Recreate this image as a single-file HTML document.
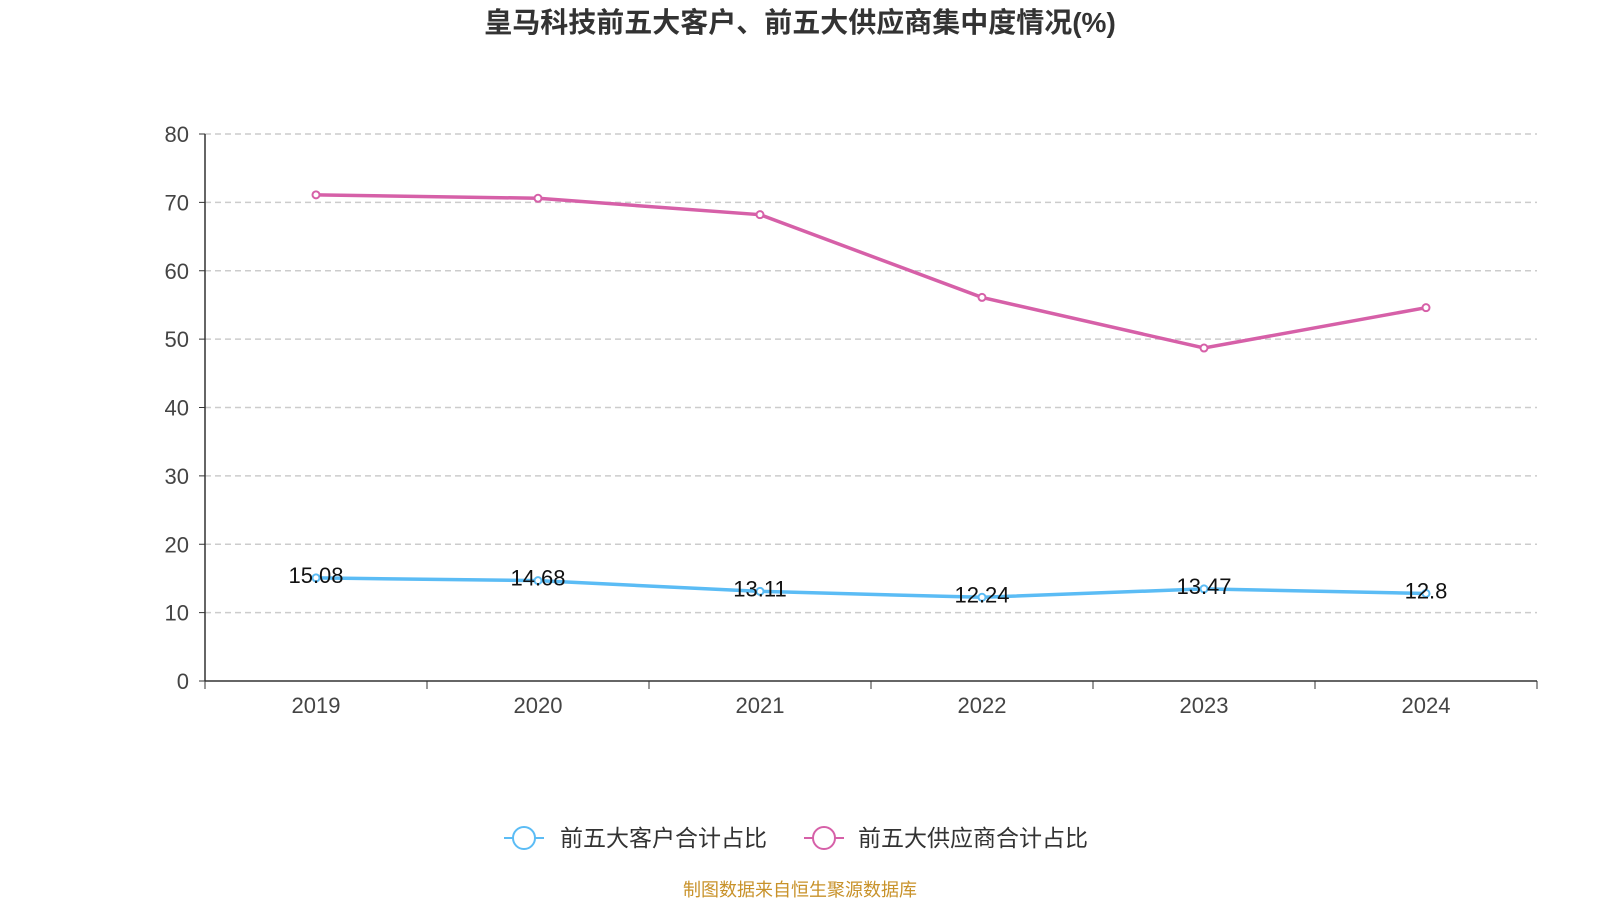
<!DOCTYPE html>
<html><head><meta charset="utf-8"><style>
body{margin:0;background:#fff;}
svg text{font-family:"Liberation Sans","Noto Sans CJK SC",sans-serif;}
</style></head><body>
<svg id="chart" width="1600" height="900" xmlns="http://www.w3.org/2000/svg">
<text x="800" y="32" text-anchor="middle" font-size="28" font-weight="bold" fill="#333">皇马科技前五大客户、前五大供应商集中度情况(%)</text>
<g id="grid"></g><g id="axes"></g><g id="series"></g>
<g>
<g>
<line x1="504" y1="838" x2="544" y2="838" stroke="#5bbcf5" stroke-width="2"/>
<circle cx="524" cy="838" r="11" fill="#fff" stroke="#5bbcf5" stroke-width="2"/>
<text x="560" y="846" font-size="23" fill="#333">前五大客户合计占比</text></g>
<g>
<line x1="804" y1="838" x2="844" y2="838" stroke="#d660a8" stroke-width="2"/>
<circle cx="824" cy="838" r="11" fill="#fff" stroke="#d660a8" stroke-width="2"/>
<text x="858" y="846" font-size="23" fill="#333">前五大供应商合计占比</text></g>
</g>
<text x="800" y="896" text-anchor="middle" font-size="18" fill="#c8922a">制图数据来自恒生聚源数据库</text>
</svg>
<script>
const categories=["2019","2020","2021","2022","2023","2024"];
const customers=[15.08,14.68,13.11,12.24,13.47,12.8];
const suppliers=[71.1,70.6,68.2,56.1,48.7,54.6];
const yTicks=[0,10,20,30,40,50,60,70,80];
const NS="http://www.w3.org/2000/svg";
const L=205,R=1537,T=134,B=681;
const y=v=>B-(v/80)*(B-T);
const band=(R-L)/categories.length;
const x=i=>L+band*(i+0.5);
function el(t,a,p){const e=document.createElementNS(NS,t);for(const k in a)e.setAttribute(k,a[k]);p.appendChild(e);return e;}
const grid=document.getElementById('grid'),axes=document.getElementById('axes'),ser=document.getElementById('series');
yTicks.forEach(v=>{
 if(v>0){const g=el('line',{x1:L,x2:R,y1:y(v),y2:y(v),stroke:'#ccc','stroke-dasharray':'6,4','stroke-width':1.5},grid);
 
 }
 const t=el('text',{x:L-16,y:y(v)+8,'text-anchor':'end','font-size':22,fill:'#444'},axes);t.textContent=v;
 
 
 el('line',{x1:L-6,x2:L,y1:y(v),y2:y(v),stroke:'#333'},axes);
});
const ya=el('line',{x1:L,x2:L,y1:T,y2:B,stroke:'#333','stroke-width':1.5},axes);


const xa=el('line',{x1:L,x2:R,y1:B,y2:B,stroke:'#333','stroke-width':1.5},axes);


for(let i=0;i<=categories.length;i++)el('line',{x1:L+band*i,x2:L+band*i,y1:B,y2:B+8,stroke:'#333'},axes);
categories.forEach((c,i)=>{const t=el('text',{x:x(i),y:B+32,'text-anchor':'middle','font-size':22,fill:'#444'},axes);t.textContent=c;
 
 });
function draw(vals,color,name,labels){
 const p=el('polyline',{points:vals.map((v,i)=>x(i)+','+y(v)).join(' '),fill:'none',stroke:color,'stroke-width':3.5},ser);
 
 
 vals.forEach((v,i)=>{const c=el('circle',{cx:x(i),cy:y(v),r:3.5,fill:'#fff',stroke:color,'stroke-width':2},ser);
  
  
  if(labels){const t=el('text',{x:x(i),y:y(v)+5,'text-anchor':'middle','font-size':22,fill:'#111'},ser);t.textContent=v;
   
   }
 });
}
draw(suppliers,'#d660a8','suppliers',false);
draw(customers,'#5bbcf5','customers',true);
</script>
</body></html>
